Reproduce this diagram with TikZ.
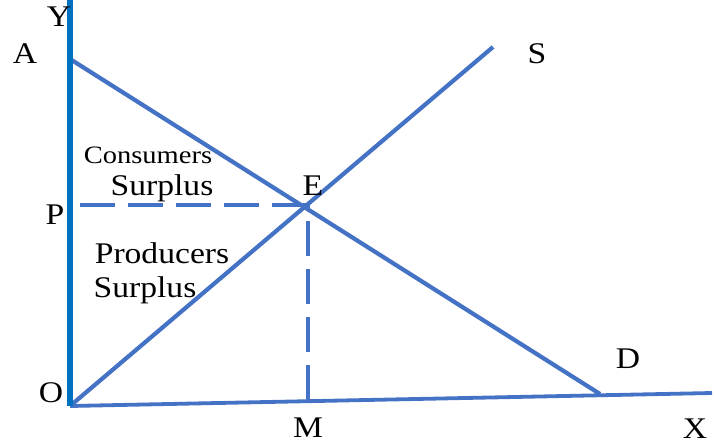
\documentclass[tikz,border=0pt]{standalone}
\usepackage{fontspec}
\setmainfont{Liberation Serif}
\definecolor{lineblue}{RGB}{68,114,196}
\definecolor{axisblue}{RGB}{0,112,192}
\tikzset{
  curve/.style={draw=lineblue, line width=4.2pt},
  axisy/.style={draw=axisblue, line width=5.4pt},
  axisx/.style={draw=lineblue, line width=3.8pt},
  guide/.style={draw=lineblue, line width=4.2pt, dash pattern=on 35pt off 13pt},
  lbl/.style={inner sep=0pt, anchor=base, font=\fontsize{30}{30}\selectfont, xscale=1.12},
  small/.style={inner sep=0pt, anchor=base, font=\fontsize{25}{26}\selectfont, xscale=1.14},
}
\begin{document}
\begin{tikzpicture}[x=1pt,y=-1pt]
\useasboundingbox (0,0) rectangle (714,447);
\coordinate (O) at (70,406);
\coordinate (Ytop) at (70,0);
\coordinate (Xend) at (712,393);
\coordinate (A) at (70,59);
\coordinate (Dend) at (600,394);
\coordinate (Send) at (493,47);
\coordinate (E) at (308,205);
\coordinate (Pd) at (80,205);
\coordinate (Md) at (308,400);
\draw[curve] (A) -- (Dend);
\draw[curve] (O) -- (Send);
\draw[guide] (Pd) -- (E);
\draw[guide] (Md) -- (E);
\draw[axisx] (O) -- (Xend);
\draw[axisy] (O) -- (Ytop);
\node[lbl] (ly) at (59,27) {Y};
\node[lbl] (la) at (25,63) {A};
\node[lbl] (lp) at (55,224) {P};
\node[lbl] (lo) at (51,402) {O};
\node[lbl] (lm) at (308,437) {M};
\node[lbl] (lx) at (695,438) {X};
\node[lbl] (ls) at (537,63) {S};
\node[lbl] (ld) at (628,368) {D};
\node[lbl] (le) at (313,195) {E};
\node[small] (cons) at (148,163) {Consumers};
\node[lbl] (csur) at (162,195) {Surplus};
\node[lbl] (prod) at (162,263) {Producers};
\node[lbl] (psur) at (145,297) {Surplus};
\end{tikzpicture}
\end{document}
